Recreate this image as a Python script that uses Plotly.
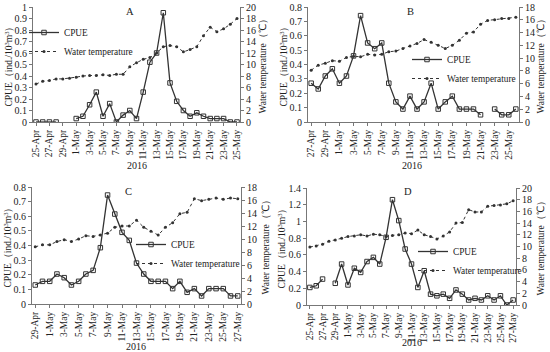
import plotly.graph_objects as go
from datetime import date, timedelta

def days(start, n):
    d0 = date(2016, *start)
    out = []
    for i in range(n):
        d = d0 + timedelta(days=i)
        out.append(f"{d.day}-{'Apr' if d.month == 4 else 'May'}")
    return out

# Panel A: 25-Apr .. 25-May
dates_a = days((4, 25), 31)
cpue_a = [0, 0, 0, 0, None, None, 0.03, 0.05, 0.15, 0.26, 0.05, 0.16, 0.0, 0.06, 0.10, 0.03,
          0.26, 0.52, 0.60, 0.95, 0.34, 0.18, 0.10, 0.05, 0.08, 0.05, 0.03, 0.03, 0.03, 0.0, 0.0]
temp_a = [6.6, 7.1, 7.2, 7.5, 7.5, 7.6, 7.8, 8.0, 8.1, 8.1, 8.2, 8.1, 8.3, 8.3, 9.6, 10.3,
          10.9, 11.2, 12.0, 13.1, 13.3, 13.1, 12.2, 12.6, 13.1, 15.0, 16.5, 15.7, 16.2, 17.0, 18.0]

# Panel B: 27-Apr .. 26-May
dates_b = days((4, 27), 30)
cpue_b = [0.27, 0.23, 0.32, 0.37, 0.27, 0.32, 0.46, 0.74, 0.55, 0.51, 0.55, 0.27, 0.14, 0.09,
          0.18, 0.09, 0.14, 0.27, 0.09, 0.14, 0.18, 0.09, 0.09, 0.09, 0.05, None, 0.09, 0.05, 0.05, 0.09]
temp_b = [8.1, 8.9, 9.2, 9.6, 9.5, 10.1, 10.3, 10.2, 10.6, 10.5, 10.6, 11.0, 11.1, 11.5, 11.9,
          12.3, 12.9, 12.5, 12.0, 11.5, 12.0, 12.8, 13.9, 14.1, 15.3, 15.9, 16.0, 16.2, 16.2, 16.4]

# Panel C: 29-Apr .. 27-May
dates_c = days((4, 29), 29)
cpue_c = [0.13, 0.155, 0.155, 0.205, 0.18, 0.13, 0.155, 0.205, 0.23, 0.385, 0.745, 0.615, 0.49,
          0.435, 0.28, 0.205, 0.155, 0.155, 0.155, 0.105, 0.155, 0.08, 0.105, 0.055, 0.105, 0.105,
          0.105, 0.055, 0.055]
temp_c = [8.8, 9.1, 9.1, 9.6, 9.9, 9.6, 10.0, 10.5, 10.4, 10.6, 10.9, 11.8, 12.0, 12.0, 12.9,
          11.8, 11.2, 10.6, 11.8, 12.5, 13.9, 14.1, 16.2, 15.9, 16.1, 16.3, 16.1, 16.3, 16.2]

# Panel D: 25-Apr .. 27-May
dates_d = days((4, 25), 33)
cpue_d = [0.21, 0.23, 0.31, None, 0.26, 0.49, 0.24, 0.44, 0.39, 0.52, 0.57, 0.49, 0.81, 1.26,
          1.01, 0.67, 0.49, 0.21, 0.41, 0.13, 0.11, 0.13, 0.08, 0.18, 0.13, 0.06, 0.08, 0.06,
          0.11, 0.06, 0.11, 0.0, 0.06]
temp_d = [9.9, 10.1, 10.4, 10.9, 11.1, 11.4, 11.7, 11.8, 12.0, 11.8, 12.1, 12.0, 11.7, 11.9,
          12.0, 12.3, 12.2, 12.8, 12.0, 11.7, 11.3, 11.8, 12.5, 14.0, 14.1, 16.3, 15.9, 15.9,
          16.9, 17.0, 17.1, 17.3, 17.8]

panels = [
    dict(letter="A", dates=dates_a, cpue=cpue_a, temp=temp_a, l=(0, 1, 0.1), r=(0, 20, 2),
         box=(33, 240, 7, 122), legend=(24, 18), lt=(130, 11), yr=(137, 165), rt=262),
    dict(letter="B", dates=dates_b, cpue=cpue_b, temp=temp_b, l=(0, 0.8, 0.1), r=(0, 18, 2),
         box=(308, 519, 7, 122), legend=(407, 45), lt=(410, 11), yr=(412, 165), rt=540),
    dict(letter="C", dates=dates_c, cpue=cpue_c, temp=temp_c, l=(0, 0.8, 0.1), r=(0, 18, 2),
         box=(32, 241, 187, 304), legend=(131, 230), lt=(128, 191), yr=(136, 346), rt=265),
    dict(letter="D", dates=dates_d, cpue=cpue_d, temp=temp_d, l=(0, 1.4, 0.2), r=(0, 20, 2),
         box=(307, 516, 188, 305), legend=(413, 237), lt=(408, 191), yr=(412, 342), rt=541),
]

W, H = 550, 352
FONT = "Liberation Serif"
C = "#333333"

fig = go.Figure()
layout = dict(width=W, height=H, margin=dict(l=0, r=0, t=0, b=0, autoexpand=False),
              paper_bgcolor="white", plot_bgcolor="white",
              font=dict(family=FONT, size=10, color="#222"),
              annotations=[])

for i, p in enumerate(panels):
    xa = f"x{i+1}" if i else "x"
    ya_l = f"y{2*i+1}" if i else "y"
    ya_r = f"y{2*i+2}"
    leg = f"legend{i+1}" if i else "legend"
    fig.add_trace(go.Scatter(x=p["dates"], y=p["cpue"], name="CPUE", mode="lines+markers",
                             xaxis=xa, yaxis=ya_l, legend=leg,
                             line=dict(color=C, width=1.3),
                             marker=dict(symbol="square-open", size=4.5, color=C, line=dict(width=1))))
    fig.add_trace(go.Scatter(x=p["dates"], y=p["temp"], name="Water temperature", mode="lines+markers",
                             xaxis=xa, yaxis=ya_r, legend=leg,
                             line=dict(color=C, width=1, dash="dot"),
                             marker=dict(symbol="circle", size=3, color=C)))
    x0, x1, yt, yb = p["box"]
    xd = [x0 / W, x1 / W]
    yd = [1 - yb / H, 1 - yt / H]
    n = len(p["dates"])
    axkey = "xaxis" + (str(i+1) if i else "")
    ylkey = "yaxis" + (str(2*i+1) if i else "")
    yrkey = "yaxis" + str(2*i+2)
    layout[axkey] = dict(domain=xd, anchor=ya_l, type="category", categoryorder="array",
                         categoryarray=p["dates"], range=[-0.45, n - 0.55], automargin=False,
                         tickmode="array", tickvals=p["dates"][::2], ticktext=p["dates"][::2],
                         tickangle=-90, tickfont=dict(size=9.5, family=FONT),
                         showline=True, linecolor="#777", linewidth=1,
                         ticks="outside", ticklen=3, tickcolor="#777", showgrid=False, zeroline=False)
    lo, hi, dt = p["l"]
    layout[ylkey] = dict(domain=yd, anchor=xa, range=[lo, hi], dtick=dt, tick0=0, automargin=False,
                         showline=True, linecolor="#777", linewidth=1, ticks="outside",
                         ticklen=3, tickcolor="#777", showgrid=False, zeroline=False,
                         tickfont=dict(size=10, family=FONT))
    rlo, rhi, rdt = p["r"]
    layout[yrkey] = dict(domain=yd, anchor=xa, overlaying=ya_l, side="right", automargin=False,
                         range=[rlo, rhi], dtick=rdt, tick0=0,
                         showline=True, linecolor="#777", linewidth=1, ticks="outside",
                         ticklen=3, tickcolor="#777", showgrid=False, zeroline=False,
                         tickfont=dict(size=10, family=FONT))
    lx, ly = p["legend"]
    layout[leg] = dict(x=lx / W, y=1 - ly / H, xanchor="left", yanchor="top",
                       bgcolor="rgba(0,0,0,0)", font=dict(size=9.3, family=FONT),
                       itemwidth=30, tracegroupgap=0)
    ann = layout["annotations"]
    common = dict(xref="paper", yref="paper", showarrow=False, xanchor="center", yanchor="middle")
    ann.append(dict(text=p["letter"], x=p["lt"][0] / W, y=1 - p["lt"][1] / H,
                    font=dict(size=10.5, family=FONT), **common))
    ann.append(dict(text="2016", x=p["yr"][0] / W, y=1 - p["yr"][1] / H,
                    font=dict(size=10, family=FONT), **common))
    ann.append(dict(text="CPUE（ind./10<sup>3</sup>m<sup>3</sup>）", x=(x0 - 25) / W,
                    y=(yd[0] + yd[1]) / 2, textangle=-90,
                    font=dict(size=9.5, family=FONT), **common))
    ann.append(dict(text="Water temperature（℃）", x=p["rt"] / W,
                    y=(yd[0] + yd[1]) / 2, textangle=-90,
                    font=dict(size=9.5, family=FONT), **common))

fig.update_layout(**layout)
fig.write_html("out.html", config={"displayModeBar": False},
               post_script="document.body.style.margin='0';document.body.style.overflow='hidden';")
